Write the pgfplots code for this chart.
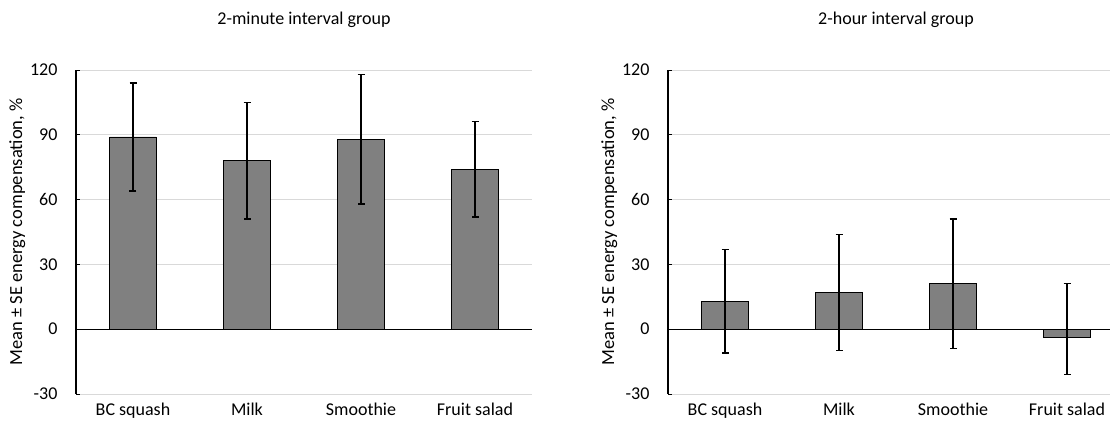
\documentclass[border=0pt]{standalone}
\usepackage{pgfplots}
\pgfplotsset{compat=1.18}
\usetikzlibrary{calc}
\usepackage{fontspec}
\setmainfont{Carlito}
\definecolor{barfill}{RGB}{128,128,128}
\definecolor{gridc}{RGB}{217,217,217}
\begin{document}
\begin{tikzpicture}[x=1pt,y=1pt]
\pgfplotsset{
  common/.style={
    anchor=south west,
    scale only axis,
    width=456pt, height=324pt,
    xmin=-0.5, xmax=3.5,
    ymin=-30, ymax=120,
    axis lines=left,
    x axis line style={draw=none},
    y axis line style={black, line width=1.1pt, -},
    xtick=data,
    xticklabels={BC squash, Milk, Smoothie, Fruit salad},
    xtick style={draw=none},
    ytick={-30,30,60,90,120},
    extra y ticks={0},
    extra y tick style={grid=major, major grid style={black, line width=1.1pt}},
    ymajorgrids,
    grid style={gridc, line width=0.8pt},
    tick style={black, line width=0.9pt},
    major tick length=4pt,
    tick align=inside,
    ticklabel style={font=\fontsize{18}{21}\selectfont},
    /pgf/number format/assume math mode=true,
    xticklabel style={yshift=-5pt},
    yticklabel style={xshift=-15pt},
    ylabel={Mean ± SE energy compensation, \%},
    ylabel style={font=\fontsize{18.5}{21}\selectfont, yshift=-2pt},
    title style={font=\fontsize{18}{21}\selectfont, yshift=33pt},
    clip=false,
  },
  barstyle/.style={
    ybar, bar width=0.41, fill=barfill, draw=black, line width=0.8pt,
    error bars/.cd, y dir=both, y explicit,
    error bar style={black, line width=1.3pt},
    error mark options={rotate=90, mark size=3.5pt, line width=1.3pt, black},
  },
}
\begin{axis}[common, name=L, at={(0pt,0pt)}, title={2-minute interval group}]
\addplot[barstyle] coordinates {
 (0,89) +- (0,25)
 (1,78) +- (0,27)
 (2,88) +- (0,30)
 (3,74) +- (0,22)
};
\end{axis}
\begin{axis}[common, name=R, at={($(L.south west)+(592pt,0pt)$)}, title={2-hour interval group}]
\addplot[barstyle] coordinates {
 (0,13) +- (0,24)
 (1,17) +- (0,27)
 (2,21) +- (0,30)
 (3,-4) += (0,25) -= (0,17)
};
\end{axis}
\pgfresetboundingbox
\path[use as bounding box] ($(L.south west)+(-76pt,-33pt)$) rectangle ($(L.south west)+(1034pt,394pt)$);
\end{tikzpicture}
\end{document}
